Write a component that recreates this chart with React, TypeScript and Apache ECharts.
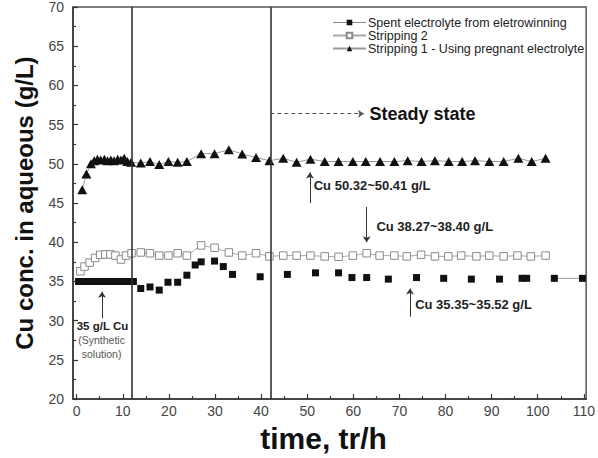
import React, { useEffect, useRef } from "react";
import * as echarts from "echarts";

const FONT = "'Liberation Sans', Arial, Helvetica, sans-serif";

// ---- axis ticks ----
const xTickValues = [0, 10, 20, 30, 40, 50, 60, 70, 80, 90, 100, 110];
const xMinorTickValues = [5, 15, 25, 35, 45, 55, 65, 75, 85, 95, 105];

// ---- series names ----
const seriesNames = [
  "Spent electrolyte from eletrowinning",
  "Stripping 2",
  "Stripping 1 - Using pregnant electrolyte",
];

// ---- Spent electrolyte from eletrowinning (filled squares) ----
const spentX = [
  0.4, 0.9, 1.4, 1.9, 2.4, 2.9, 3.4, 3.9, 4.4, 4.9, 5.4, 5.9, 6.4, 6.9, 7.4, 7.9, 8.4, 8.9, 9.4, 9.9,
  10.4, 10.9, 11.4, 11.9, 12.3,
  13.9, 15.9, 17.9, 19.8, 21.9, 23.9, 25.7, 27.0, 29.9, 31.8, 33.8, 39.8, 45.7, 51.8, 56.8, 59.7,
  62.9, 67.6, 73.7, 79.6, 85.6, 91.7, 96.6, 97.6, 103.6, 109.7,
];
const spentY = [
  35.0, 35.0, 35.0, 35.0, 35.0, 35.0, 35.0, 35.0, 35.0, 35.0, 35.0, 35.0, 35.0, 35.0, 35.0, 35.0, 35.0, 35.0, 35.0, 35.0,
  35.0, 35.0, 35.0, 35.0, 35.0,
  34.1, 34.3, 33.9, 34.9, 34.9, 35.8, 37.1, 37.5, 37.6, 36.9, 35.9, 35.6, 35.9, 36.1, 36.1, 35.5,
  35.5, 35.3, 35.5, 35.4, 35.3, 35.3, 35.4, 35.4, 35.4, 35.4,
];

// ---- Stripping 2 (open squares) ----
const strip2X = [
  0.8, 1.7, 2.8, 4.0, 5.1, 6.2, 7.3, 8.4, 9.6, 10.7, 11.9, 13.9, 15.9, 17.9, 19.9, 21.9, 23.9, 27.0,
  29.9, 33.0, 35.9, 38.9, 41.8, 44.8, 47.7, 50.7, 53.8, 56.8, 59.9, 62.9, 65.7, 68.9, 71.6, 74.7,
  77.7, 80.6, 83.4, 86.7, 89.5, 92.6, 95.6, 98.5, 101.7,
];
const strip2Y = [
  36.3, 36.9, 37.4, 38.0, 38.4, 38.45, 38.45, 38.3, 37.8, 38.3, 38.6, 38.7, 38.6, 38.3, 38.3, 38.6, 38.3, 39.6,
  39.3, 38.7, 38.3, 38.6, 38.2, 38.3, 38.3, 38.3, 38.2, 38.15, 38.3, 38.6, 38.3, 38.3, 38.2, 38.4,
  38.2, 38.2, 38.3, 38.2, 38.3, 38.2, 38.3, 38.2, 38.3,
];

// ---- Stripping 1 - Using pregnant electrolyte (triangles) ----
const strip1X = [
  1.2, 2.1, 3.1, 3.8, 4.5, 5.2, 6.0, 6.7, 7.4, 8.1, 8.9, 9.6, 10.3, 11.0, 11.8,
  13.9, 15.9, 17.9, 19.9, 21.9, 23.9, 27.0, 29.9, 33.0, 35.9, 38.9, 41.8, 44.8, 47.7, 50.7,
  53.8, 56.8, 59.9, 62.7, 65.8, 68.9, 71.8, 74.8, 77.7, 80.7, 83.6, 86.4, 89.5, 92.6, 95.8,
  98.7, 101.7,
];
const strip1Y = [
  46.7, 48.7, 50.0, 50.4, 50.6, 50.5, 50.6, 50.4, 50.5, 50.4, 50.6, 50.5, 50.7, 50.3, 50.2,
  50.1, 50.3, 49.9, 50.3, 50.2, 50.3, 51.3, 51.3, 51.8, 51.25, 50.8, 50.4, 50.7, 50.2, 50.6,
  50.3, 50.3, 50.3, 50.3, 50.3, 50.3, 50.4, 50.3, 50.4, 50.3, 50.3, 50.4, 50.3, 50.3, 50.7,
  50.3, 50.7,
];

// ---- phase boundaries (h) ----
const phaseLines = [12, 42];

// ---- annotation texts ----
const rangeNotes = ["Cu 50.32~50.41 g/L", "Cu 38.27~38.40 g/L", "Cu 35.35~35.52 g/L"];
const steadyText = "Steady state";
const synthTexts = ["35 g/L Cu", "(Synthetic", "solution)"];

// annotation layout (data coordinates)
const noteAnchors = [
  [51.3, 47.3],
  [64.9, 42.0],
  [73.3, 32.1],
];
const noteArrows = [
  [[50.6, 45.0], [50.6, 48.9]],
  [[62.9, 44.5], [62.9, 40.0]],
  [[72.3, 30.5], [72.3, 34.1]],
  [[5.5, 30.3], [5.5, 33.7]],
];
const steadyArrow = [[42, 56.4], [62.3, 56.4]];
const steadyAnchor = [63.4, 56.4];
const synthAnchors = [
  [5.6, 29.3],
  [5.4, 27.5],
  [5.4, 25.8],
];

const pairs = (xs: number[], ys: number[]) => xs.map((x, i) => [x, ys[i]]);

export default function App() {
  const ref = useRef<HTMLDivElement>(null);

  useEffect(() => {
    document.body.style.margin = "0";
    if (!ref.current) return;
    const chart = echarts.init(ref.current, undefined, { renderer: "svg" });

    const spentData = pairs(spentX, spentY);
    const noteStyle = { fontFamily: FONT, fontSize: 13, fontWeight: "bold", color: "#222" };

    const option: any = {
      animation: false,
      backgroundColor: "#ffffff",
      textStyle: { fontFamily: FONT },
      grid: {
        left: 73,
        right: 9,
        top: 6,
        bottom: 57,
        show: true,
        borderColor: "#555",
        borderWidth: 1.5,
      },
      legend: {
        orient: "vertical",
        left: 332,
        top: 16,
        padding: 0,
        itemWidth: 33,
        itemHeight: 7,
        itemGap: 0,
        textStyle: { fontFamily: FONT, fontSize: 12.5, color: "#222", lineHeight: 11.6, padding: [0, 0, 0, -3] },
        data: [
          { name: seriesNames[0], lineStyle: { width: 1, color: "#888", opacity: 1 } },
          { name: seriesNames[1] },
          { name: seriesNames[2] },
        ],
      },
      xAxis: [
        {
          type: "value",
          min: -0.8,
          max: 110.5,
          splitLine: { show: false },
          axisLine: { onZero: false, lineStyle: { color: "#333", width: 1.5 } },
          axisTick: { inside: true, length: 5, customValues: xTickValues, lineStyle: { color: "#333", width: 1.2 } },
          axisLabel: { customValues: xTickValues, color: "#444", fontSize: 14, margin: 5, fontFamily: FONT },
          name: "time, tr/h",
          nameLocation: "middle",
          nameGap: 22,
          nameTextStyle: { fontSize: 30, fontWeight: "bold", color: "#111", fontFamily: FONT, padding: [0, 12, 0, 0] },
        },
        {
          type: "value",
          min: -0.8,
          max: 110.5,
          position: "bottom",
          splitLine: { show: false },
          axisLine: { show: false },
          axisTick: { inside: true, length: 3, customValues: xMinorTickValues, lineStyle: { color: "#333", width: 1.2 } },
          axisLabel: { show: false },
        },
      ],
      yAxis: {
        type: "value",
        min: 20,
        max: 70,
        interval: 5,
        splitLine: { show: false },
        axisLine: { show: true, onZero: false, lineStyle: { color: "#333", width: 1.5 } },
        axisTick: { inside: true, length: 5, lineStyle: { color: "#333", width: 1.2 } },
        minorTick: { show: true, splitNumber: 2, length: 3, lineStyle: { color: "#333", width: 1.2 } },
        axisLabel: { color: "#444", fontSize: 14, margin: 9, fontFamily: FONT },
        name: "Cu conc. in aqueous (g/L)",
        nameLocation: "middle",
        nameRotate: 90,
        nameGap: 37,
        nameTextStyle: { fontSize: 24, fontWeight: "bold", color: "#111", fontFamily: FONT },
      },
      series: [
        {
          name: seriesNames[2],
          type: "line",
          data: pairs(strip1X, strip1Y),
          symbol: "triangle",
          symbolSize: [10, 9],
          itemStyle: { color: "#111" },
          lineStyle: { color: "#999", width: 1 },
          z: 3,
        },
        {
          name: seriesNames[1],
          type: "line",
          data: pairs(strip2X, strip2Y),
          symbol: "rect",
          symbolSize: 7.5,
          itemStyle: { color: "#ffffff", borderColor: "#8a8a8a", borderWidth: 1 },
          lineStyle: { color: "#aaa", width: 1 },
          z: 3,
        },
        {
          name: seriesNames[0],
          type: "line",
          data: spentData,
          symbol: "rect",
          symbolSize: 7,
          itemStyle: { color: "#111" },
          lineStyle: { width: 0, opacity: 0 },
          z: 4,
        },
        {
          name: "spent-tail",
          type: "line",
          data: spentData.slice(-2),
          symbol: "none",
          lineStyle: { color: "#999", width: 1 },
          silent: true,
          z: 2,
        },
        {
          name: "phases",
          type: "line",
          data: [],
          silent: true,
          markLine: {
            silent: true,
            symbol: ["none", "none"],
            label: { show: false },
            lineStyle: { type: "solid", color: "#333", width: 1.6 },
            data: phaseLines.map((v) => ({ xAxis: v })),
          },
        },
        {
          name: "notes",
          type: "line",
          data: [],
          silent: true,
          markLine: {
            silent: true,
            symbol: ["none", "arrow"],
            symbolSize: 6,
            label: { show: false },
            lineStyle: { type: "solid", color: "#333", width: 1 },
            data: [
              ...noteArrows.map((a) => [{ coord: a[0] }, { coord: a[1] }]),
              [
                { coord: steadyArrow[0], lineStyle: { type: [4, 3], color: "#555", width: 1 } },
                { coord: steadyArrow[1] },
              ],
            ],
          },
          markPoint: {
            silent: true,
            symbol: "circle",
            symbolSize: 1,
            itemStyle: { color: "rgba(0,0,0,0)" },
            data: [
              ...rangeNotes.map((t, i) => ({
                coord: noteAnchors[i],
                label: { show: true, position: "right", distance: 0, formatter: t, ...noteStyle },
              })),
              {
                coord: steadyAnchor,
                label: {
                  show: true,
                  position: "right",
                  distance: 0,
                  formatter: steadyText,
                  fontFamily: FONT,
                  fontSize: 18,
                  fontWeight: "bold",
                  color: "#111",
                },
              },
              {
                coord: synthAnchors[0],
                label: {
                  show: true,
                  position: "inside",
                  formatter: synthTexts[0],
                  fontFamily: FONT,
                  fontSize: 11.5,
                  fontWeight: "bold",
                  color: "#222",
                },
              },
              ...synthTexts.slice(1).map((t, i) => ({
                coord: synthAnchors[i + 1],
                label: {
                  show: true,
                  position: "inside",
                  formatter: t,
                  fontFamily: FONT,
                  fontSize: 10.5,
                  color: "#555",
                },
              })),
            ],
          },
        },
      ],
    };

    chart.setOption(option);
    return () => chart.dispose();
  }, []);

  return <div ref={ref} style={{ width: 598, height: 458 }} />;
}
